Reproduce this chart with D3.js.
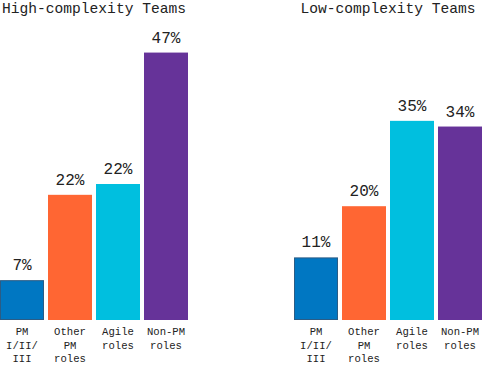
<!DOCTYPE html>
<html><head><meta charset="utf-8">
<script src="https://cdn.jsdelivr.net/npm/d3@7"></script>
<style>body{margin:0;background:#fff}</style>
</head><body>
<svg id="c" width="482" height="366"></svg>
<script>
const categories = ["PM\nI/II/\nIII", "Other\nPM\nroles", "Agile\nroles", "Non-PM\nroles"];
const panelTitles = ["High-complexity Teams", "Low-complexity Teams"];
const highValues = [7, 22, 23.9, 47];
const highLabels = ["7%", "22%", "22%", "47%"];
const lowValues = [11, 20, 35, 34];
const lowLabels = ["11%", "20%", "35%", "34%"];
const colors = ["#0077c2", "#ff6633", "#00bfdf", "#663399"];

const svg = d3.select("#c");
const font = "'Liberation Mono', 'DejaVu Sans Mono', monospace";
const baseY = 320;
const y = d3.scaleLinear().domain([0, 50]).range([baseY, baseY - 50 * 5.69]);

const panels = [
  {title: panelTitles[0], values: highValues, labels: highLabels, range: [0, 188]},
  {title: panelTitles[1], values: lowValues, labels: lowLabels, range: [294, 482]}
];

panels.forEach(p => {
  const x = d3.scaleBand().domain(categories).range(p.range).paddingInner(4/48).paddingOuter(0);
  const g = svg.append("g");
  g.append("text").attr("x", (p.range[0] + p.range[1]) / 2).attr("y", 13)
    .attr("text-anchor", "middle").attr("font-family", font).attr("font-size", 14.6)
    .attr("fill", "#222").text(p.title);
  categories.forEach((c, i) => {
    const v = p.values[i];
    g.append("rect").attr("x", x(c) + (i === 0 ? 0.5 : 0)).attr("y", y(v) + (i === 0 ? 0.5 : 0))
      .attr("width", x.bandwidth() - (i === 0 ? 1 : 0)).attr("height", baseY - y(v) - (i === 0 ? 1 : 0))
      .attr("fill", colors[i])
      .attr("stroke", i === 0 ? "#2b5c85" : "none").attr("stroke-width", 1);
    g.append("text").attr("x", x(c) + x.bandwidth() / 2).attr("y", y(v) - 10)
      .attr("text-anchor", "middle").attr("font-family", font).attr("font-size", 16)
      .attr("fill", "#222").text(p.labels[i]);
    const t = g.append("text").attr("text-anchor", "middle").attr("font-family", font)
      .attr("font-size", 10.6).attr("fill", "#222");
    c.split("\n").forEach((line, j) => {
      t.append("tspan").attr("x", x(c) + x.bandwidth() / 2).attr("y", 335 + j * 13.5).text(line);
    });
  });
});
</script>
</body></html>
